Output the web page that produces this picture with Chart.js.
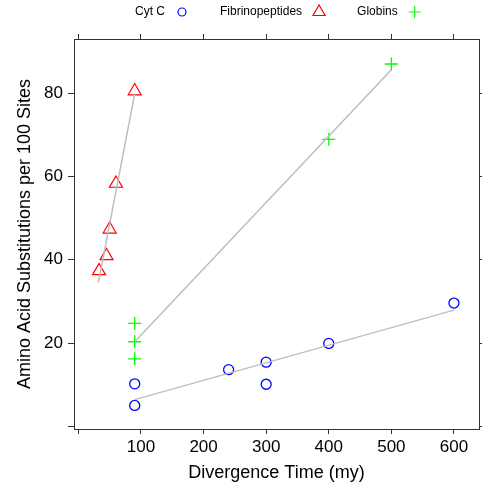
<!DOCTYPE html>
<html>
<head>
<meta charset="utf-8">
<script src="https://cdn.jsdelivr.net/npm/chart.js@4/dist/chart.umd.min.js"></script>
<style>
  html, body { margin: 0; padding: 0; background: #fff; overflow: hidden; }
  canvas { display: block; }
</style>
</head>
<body>
<canvas id="divChart" width="482" height="497"></canvas>
<script>
// data
const seriesNames = ['Cyt C', 'Fibrinopeptides', 'Globins'];

const cytX = [90, 90, 240, 300, 300, 400, 600];
const cytY = [5.0, 10.2, 13.6, 15.4, 10.1, 19.9, 29.6];

const fibX = [33, 45, 50, 60, 90];
const fibY = [37.3, 40.9, 47.3, 58.3, 80.5];

const globX = [90, 90, 90, 400, 500];
const globY = [24.7, 20.3, 16.2, 68.9, 87.0];

// fitted lines (end points)
const cytFitX = [90, 600];
const cytFitY = [6.4, 27.9];
const fibFitX = [32, 90];
const fibFitY = [34.5, 79.9];
const globFitX = [90, 500];
const globFitY = [20.3, 85.6];

const xTicks = [0, 100, 200, 300, 400, 500, 600];
const yTicks = [0, 20, 40, 60, 80];

const FONT = "'Liberation Sans', Arial, Helvetica, sans-serif";
const frameColor = '#333333';
const fitColor = '#BEBEBE';
const colors = ['#0000FF', '#FF0000', '#00FF00'];

const toPoints = (xs, ys) => xs.map((x, i) => ({ x: x, y: ys[i] }));

function fitLine(xs, ys) {
    return {
        type: 'line',
        data: toPoints(xs, ys),
        borderColor: fitColor,
        borderWidth: 1.5,
        pointRadius: 0,
        fill: false,
        tension: 0
    };
}

// lattice-style key: text first, symbol after it
const keyPlugin = {
    id: 'latticeKey',
    afterDraw(chart) {
        const ctx = chart.ctx;
        const y = 12;
        let x = 135;
        ctx.save();
        ctx.font = '12px ' + FONT;
        ctx.textBaseline = 'middle';
        ctx.textAlign = 'left';
        seriesNames.forEach((name, i) => {
            ctx.fillStyle = '#000';
            ctx.fillText(name, x, y);
            const sx = x + ctx.measureText(name).width + 17;
            ctx.strokeStyle = colors[i];
            ctx.lineWidth = 1.2;
            ctx.beginPath();
            if (i === 0) {
                ctx.arc(sx, y, 4, 0, Math.PI * 2);
            } else if (i === 1) {
                const r = 7;
                for (let k = 0; k < 3; k++) {
                    const a = k * 2 * Math.PI / 3;
                    const px = sx + Math.sin(a) * r, py = y - Math.cos(a) * r;
                    if (k === 0) ctx.moveTo(px, py); else ctx.lineTo(px, py);
                }
                ctx.closePath();
            } else {
                ctx.moveTo(sx - 6, y); ctx.lineTo(sx + 6, y);
                ctx.moveTo(sx, y - 6); ctx.lineTo(sx, y + 6);
            }
            ctx.stroke();
            x = sx + 38;
        });
        ctx.restore();
    }
};

function setTicks(list) {
    return (scale) => { scale.ticks = list.map(v => ({ value: v })); };
}

const tickFont = { family: FONT, size: 17 };
const titleFont = { family: FONT, size: 18 };

document.addEventListener('DOMContentLoaded', () => {
    const ctx = document.getElementById('divChart');

    new Chart(ctx, {
        type: 'scatter',
        data: {
            datasets: [
                fitLine(cytFitX, cytFitY),
                fitLine(fibFitX, fibFitY),
                fitLine(globFitX, globFitY),
                {
                    label: seriesNames[0],
                    data: toPoints(cytX, cytY),
                    pointStyle: 'circle',
                    pointRadius: 5,
                    borderWidth: 1.3,
                    borderColor: colors[0],
                    backgroundColor: 'rgba(0,0,0,0)'
                },
                {
                    label: seriesNames[1],
                    data: toPoints(fibX, fibY),
                    pointStyle: 'triangle',
                    pointRadius: 7.5,
                    borderWidth: 1.2,
                    borderColor: colors[1],
                    backgroundColor: 'rgba(0,0,0,0)'
                },
                {
                    label: seriesNames[2],
                    data: toPoints(globX, globY),
                    pointStyle: 'cross',
                    pointRadius: 6.5,
                    borderWidth: 1.3,
                    borderColor: colors[2],
                    backgroundColor: 'rgba(0,0,0,0)'
                }
            ]
        },
        options: {
            responsive: false,
            animation: false,
            layout: { autoPadding: false, padding: { top: 34, left: 0, right: 0, bottom: 0 } },
            plugins: {
                legend: { display: false },
                tooltip: { enabled: false }
            },
            scales: {
                x: {
                    type: 'linear',
                    position: 'bottom',
                    min: -7,
                    max: 640,
                    afterBuildTicks: setTicks(xTicks),
                    afterFit: (s) => { s.height = 68; },
                    ticks: {
                        font: tickFont,
                        color: '#000',
                        padding: 3,
                        maxRotation: 0,
                        autoSkip: false,
                        callback: (v) => (v === 0 ? '' : String(v))
                    },
                    grid: { drawOnChartArea: false, drawTicks: true, tickLength: 5, color: frameColor },
                    border: { color: frameColor, width: 1 },
                    title: {
                        display: true,
                        text: 'Divergence Time (my)',
                        font: titleFont,
                        color: '#000',
                        padding: { top: 0, bottom: 13 }
                    }
                },
                xTop: {
                    type: 'linear',
                    position: 'top',
                    min: -7,
                    max: 640,
                    afterBuildTicks: setTicks(xTicks),
                    afterFit: (s) => { s.height = 5; },
                    ticks: { display: false },
                    grid: { drawOnChartArea: false, drawTicks: true, tickLength: 5, color: frameColor },
                    border: { color: frameColor, width: 1 }
                },
                y: {
                    type: 'linear',
                    position: 'left',
                    min: -0.65,
                    max: 93,
                    afterBuildTicks: setTicks(yTicks),
                    afterFit: (s) => { s.width = 74; },
                    ticks: {
                        font: tickFont,
                        color: '#000',
                        padding: 5,
                        autoSkip: false,
                        callback: (v) => (v === 0 ? '' : String(v))
                    },
                    grid: { drawOnChartArea: false, drawTicks: true, tickLength: 6, color: frameColor },
                    border: { color: frameColor, width: 1 },
                    title: {
                        display: true,
                        text: 'Amino Acid Substitutions per 100 Sites',
                        font: titleFont,
                        color: '#000',
                        padding: { top: 14, bottom: 0 }
                    }
                },
                y2: {
                    type: 'linear',
                    position: 'right',
                    min: -0.65,
                    max: 93,
                    afterBuildTicks: setTicks(yTicks),
                    afterFit: (s) => { s.width = 3; },
                    ticks: { display: false },
                    grid: { drawOnChartArea: false, drawTicks: true, tickLength: 5, color: frameColor },
                    border: { color: frameColor, width: 1 }
                }
            }
        },
        plugins: [keyPlugin]
    });
});
</script>
</body>
</html>
